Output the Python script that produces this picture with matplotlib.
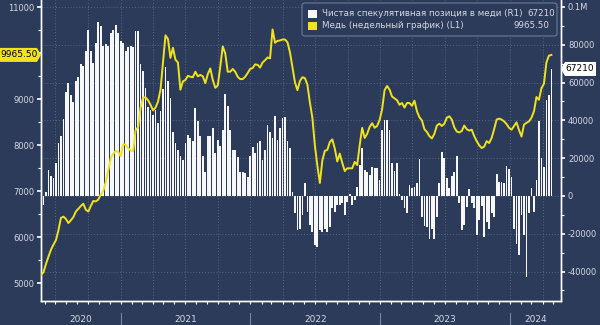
import matplotlib
matplotlib.use("Agg")
import matplotlib.pyplot as plt
import matplotlib.dates as mdates
from matplotlib.patches import Polygon, FancyBboxPatch, Rectangle
from matplotlib.ticker import MultipleLocator, FixedLocator
import pandas as pd

# colours
BG = "#2d3b5b"
GRID = "#56668a"
TXT = "#d4d8e0"
YEL = "#f0e31c"
BAR = "#f7f7f7"

# weekly data (Fridays)
dates = pd.date_range("2020-05-22", periods=206, freq="7D")

# copper, weekly close (left axis)
copper = [
    5180, 5240, 5420, 5580, 5730, 5840, 5940, 6150, 6420, 6450,
    6400, 6310, 6370, 6440, 6560, 6620, 6680, 6730, 6600, 6560,
    6680, 6790, 6780, 6820, 6930, 7010, 7200, 7450, 7720, 7810,
    7880, 7860, 7760, 8020, 8010, 7940, 7890, 7870, 8330, 8390,
    8820, 9040, 9040, 8980, 8880, 8760, 8820, 8950, 9210, 9800,
    10390, 10310, 9900, 10120, 9860, 9800, 9210, 9390, 9420, 9510,
    9490, 9480, 9600, 9500, 9530, 9500, 9350, 9550, 9670, 9420,
    9250, 9300, 9710, 10150, 10000, 9600, 9600, 9660, 9600, 9490,
    9440, 9440, 9490, 9570, 9660, 9680, 9760, 9750, 9690, 9800,
    9850, 9910, 9890, 10520, 10230, 10270, 10280, 10300, 10300, 10240,
    10020, 9700, 9370, 9200, 9400, 9480, 9460, 9320, 8930, 8600,
    8000, 7560, 7180, 7670, 7880, 7900, 8070, 8130, 7930, 7650,
    7820, 7620, 7440, 7500, 7500, 7500, 7640, 7570, 8000, 8380,
    8160, 8250, 8400, 8480, 8380, 8420, 8550, 8780, 9200, 9290,
    9210, 9060, 9020, 8980, 8880, 8920, 8820, 8920, 8920, 8860,
    8970, 8740, 8610, 8540, 8350, 8290, 8200, 8150, 8250, 8430,
    8470, 8420, 8470, 8600, 8630, 8560, 8390, 8300, 8280, 8310,
    8430, 8350, 8320, 8340, 8200, 8090, 8000, 7940, 7970, 8090,
    8050, 8160, 8350, 8560, 8580, 8560, 8520, 8460, 8380, 8340,
    8420, 8500, 8330, 8190, 8450, 8490, 8520, 8600, 8740, 9050,
    8990, 9240, 9340, 9800, 9950, 9965.5,
]

# net speculative position (right axis)
net_pos = [
    -10000, -5000, 2300, 13800, 10500, 9500, 17500, 28000, 31500, 41000,
    54800, 60000, 53700, 49500, 60800, 62700, 69700, 68800, 76800, 88000,
    76800, 70600, 81200, 92200, 90000, 79400, 80300, 79400, 86500, 88000,
    90400, 86500, 82000, 81200, 76800, 78600, 79100, 78600, 87500, 87500,
    70000, 66000, 57000, 47000, 45400, 43000, 45400, 38700, 45000, 56400,
    68000, 60800, 52000, 34000, 27800, 24500, 20900, 19200, 27800, 32300,
    30600, 28900, 46700, 39700, 31600, 20900, 12900, 31600, 31600, 36200,
    22700, 29800, 26200, 35100, 54200, 47500, 35100, 24500, 24500, 20400,
    12900, 12900, 12100, 10300, 20900, 25800, 22700, 27800, 28900, 19200,
    24500, 37400, 33800, 30600, 42400, 29800, 36200, 41500, 42000, 28900,
    25400, 2000, -9200, -18100, -17200, -10100, 6700, -8300, -15400, -19000,
    -26000, -26900, -18100, -19000, -17200, -19000, -16300, -6500, -8300, -4800,
    -4800, -3900, -10100, -3000, 1000, -4800, -2100, 5000, 16500, 25400,
    13800, 12900, 11200, 15600, 15000, 14700, 8500, 35000, 40000, 40000,
    35000, 17400, 13000, 17400, 1000, -2100, -6500, -9200, 5900, 4100,
    5000, 6700, 19500, -11000, -16000, -16300, -22500, -17200, -23000, -11000,
    6700, 23200, 20000, 9400, 4100, 10600, 12900, 21300, -3500, -18100,
    -15400, -6000, 3500, -3500, -6600, -20700, -12800, -5300, -21600, -13700,
    -17200, -9200, -11300, 11500, 7600, 7600, 6700, 16000, 14200, 9900,
    -17200, -25200, -31400, -10100, -20700, -42600, -8900, 4100, -8300, 8500,
    39500, 20000, 15600, 51000, 53700, 67210,
]

years = ["2020", "2021", "2022", "2023", "2024"]
left_ticks = [5000, 6000, 7000, 8000, 9000, 10000, 11000]
# 10000 sits under the last-price tag, so its label is left blank
left_labels = ["5000", "6000", "7000", "8000", "9000", "", "11000"]
right_ticks = [-40000, -20000, 0, 20000, 40000, 60000, 80000, 100000]
right_labels = ["-40000", "-20000", "0", "20000", "40000", "60000", "80000", "0.1M"]
legend_labels = ["Чистая спекулятивная позиция в меди (R1)", "Медь (недельный график) (L1)"]
legend_values = ["67210", "9965.50"]

W, H = 600, 325
fig = plt.figure(figsize=(W / 100, H / 100), dpi=100, facecolor=BG)


def fx(x):
    return x / W


def fy(y):
    return 1 - y / H


ax = fig.add_axes([fx(41), fy(300.7), fx(520), 300.7 / H])
ax.set_facecolor(BG)
ax.set_axisbelow(True)
ax.bar(dates, net_pos, width=5.0, color=BAR, linewidth=0, zorder=2)
ax.set_ylim(-55400, 103700)
ax.set_xlim(pd.Timestamp("2020-05-22"), pd.Timestamp("2024-05-23"))

ax2 = ax.twinx()
ax2.plot(dates, copper, color=YEL, linewidth=1.4, zorder=3)
ax2.set_ylim(4622, 11159)

# bars -> right axis, copper -> left axis
ax.yaxis.tick_right()
ax2.yaxis.tick_left()

ax.yaxis.set_major_locator(FixedLocator(right_ticks))
ax.set_yticklabels(right_labels)
ax.yaxis.set_minor_locator(MultipleLocator(10000))
ax.grid(axis="y", which="major", color=GRID, linestyle=(0, (1, 2)), linewidth=0.7)

ax.xaxis.set_major_locator(mdates.MonthLocator(bymonth=[1, 4, 7, 10]))
ax.xaxis.set_minor_locator(mdates.MonthLocator())
ax.grid(axis="x", which="major", color=GRID, linestyle=(0, (1, 2)), linewidth=0.7)
ax.tick_params(axis="x", which="both", length=2.5, width=0.8, color="white",
               labelbottom=False)
ax.tick_params(axis="y", which="major", length=3, width=1.2, color="white",
               labelcolor=TXT, labelsize=6, pad=2)
ax.tick_params(axis="y", which="minor", length=2, width=0.8, color="white")

ax2.yaxis.set_major_locator(FixedLocator(left_ticks))
ax2.set_yticklabels(left_labels)
ax2.yaxis.set_minor_locator(MultipleLocator(500))
ax2.tick_params(axis="y", which="major", length=3, width=1.2, color="white",
                labelcolor=TXT, labelsize=6, pad=1.5)
ax2.tick_params(axis="y", which="minor", length=2, width=0.8, color="white")

for a in (ax, ax2):
    a.spines["top"].set_visible(False)
    for s in ("left", "right", "bottom"):
        a.spines[s].set_color("white")
        a.spines[s].set_linewidth(1.0)

# year labels and separators under the axis
xt = ax.get_xaxis_transform()
bounds = [pd.Timestamp("2020-05-22")] + [pd.Timestamp(f"{y}-01-01") for y in years[1:]] \
    + [pd.Timestamp("2024-05-23")]
for i, y in enumerate(years):
    mid = bounds[i] + (bounds[i + 1] - bounds[i]) / 2
    ax.text(mid, -0.064, y, transform=xt, ha="center", va="center",
            color=TXT, fontsize=6.5)
for d in bounds[1:-1]:
    ax.plot([d, d], [-0.04, -0.09], transform=xt, color="#7886a4",
            linewidth=0.8, clip_on=False)

# legend box
fig.patches.append(FancyBboxPatch((fx(302), fy(36)), fx(255), 33 / H,
                                  boxstyle="round,pad=0,rounding_size=0.006",
                                  transform=fig.transFigure, facecolor=BG,
                                  edgecolor="#6f7a94", linewidth=0.8, zorder=5))
for k, (col, yc) in enumerate([(BAR, 14), (YEL, 25.5)]):
    fig.patches.append(Rectangle((fx(308), fy(yc + 4)), fx(9), 8 / H,
                                 transform=fig.transFigure, facecolor=col,
                                 edgecolor="none", zorder=6))
    fig.text(fx(322), fy(yc), legend_labels[k], color=TXT, fontsize=6.3,
             va="center", ha="left", zorder=6)
fig.text(fx(555), fy(14), legend_values[0], color=TXT, fontsize=6.3,
         va="center", ha="right", zorder=6)
fig.text(fx(549), fy(25.5), legend_values[1], color=TXT, fontsize=6.3,
         va="center", ha="right", zorder=6)

# last-value tags
yl = H - ax2.transData.transform((0, copper[-1]))[1]
fig.patches.append(Polygon([(fx(0), fy(yl - 7)), (fx(37), fy(yl - 7)), (fx(41), fy(yl)),
                            (fx(37), fy(yl + 7)), (fx(0), fy(yl + 7))],
                           closed=True, transform=fig.transFigure,
                           facecolor=YEL, edgecolor="none", zorder=7))
fig.text(fx(19), fy(yl), "9965.50", color="black", fontsize=6.5,
         va="center", ha="center", zorder=8)

yr = H - ax.transData.transform((0, net_pos[-1]))[1]
fig.patches.append(Polygon([(fx(561), fy(yr)), (fx(565), fy(yr - 7)), (fx(596), fy(yr - 7)),
                            (fx(596), fy(yr + 7)), (fx(565), fy(yr + 7))],
                           closed=True, transform=fig.transFigure,
                           facecolor="white", edgecolor="none", zorder=7))
fig.text(fx(580), fy(yr), "67210", color="black", fontsize=6.5,
         va="center", ha="center", zorder=8)

fig.savefig("out.png", dpi=100, facecolor=BG)
